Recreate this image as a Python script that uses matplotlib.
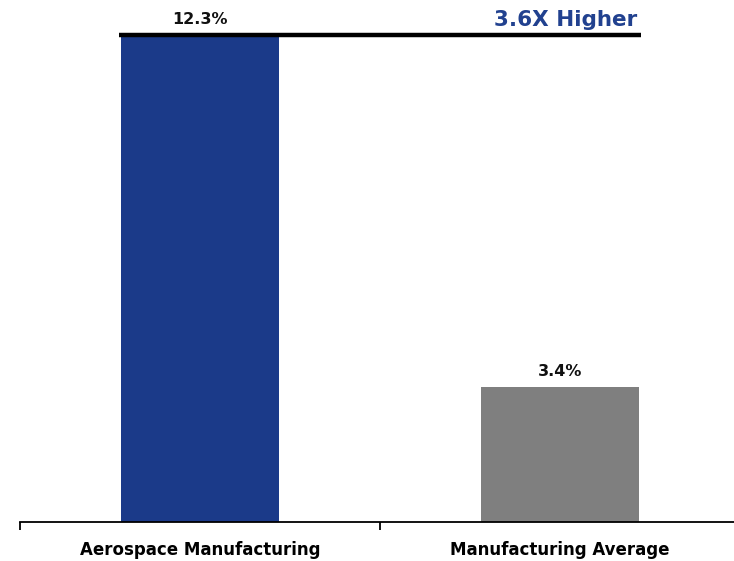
import matplotlib.pyplot as plt
from matplotlib.ticker import FixedLocator

categories = ['Aerospace Manufacturing', 'Manufacturing Average']
values = [12.3, 3.4]
value_labels = ['12.3%', '3.4%']
colors = ['#1b3a89', '#7f7f7f']
callout = '3.6X Higher'

W, H = 734, 561
fig = plt.figure(figsize=(W / 100, H / 100), dpi=100)
# axes: left edge at px 20, baseline at px 522, 360 px per category
ppu = 39.6
ax = fig.add_axes([20 / W, (H - 522) / H, 714 / W, 13 * ppu / H])
ax.set_xlim(-0.5, -0.5 + 714 / 360)
ax.set_ylim(0, 13)

bw = 0.44
x = list(range(len(categories)))
ax.bar(x, values, width=bw, color=colors, edgecolor='none', zorder=2)

for xi, v, lab in zip(x, values, value_labels):
    ax.text(xi, v + 0.28, lab, ha='center', va='baseline', fontsize=11.5,
            fontweight='bold', color='#111111', clip_on=False)

# comparison line across the top of the tall bar
ax.plot([x[0] - bw / 2 - 0.005, x[1] + bw / 2 + 0.005], [values[0], values[0]],
        color='black', lw=3.2, solid_capstyle='butt', clip_on=False, zorder=3)
ax.text(x[1] + bw / 2 - 0.005, values[0] + 0.23, callout, ha='right', va='baseline',
        fontsize=15.5, fontweight='bold', color='#21418f', clip_on=False)

for s in ['top', 'right', 'left']:
    ax.spines[s].set_visible(False)
ax.spines['bottom'].set_linewidth(1.3)
ax.set_yticks([])
ax.set_xticks(x)
ax.set_xticklabels(categories, fontsize=12, fontweight='bold')
ax.tick_params(axis='x', which='major', length=0, pad=14)
ax.xaxis.set_minor_locator(FixedLocator([-0.5, 0.5]))
ax.tick_params(axis='x', which='minor', length=6, width=1.3, direction='out')

fig.savefig('out.png', dpi=100)
